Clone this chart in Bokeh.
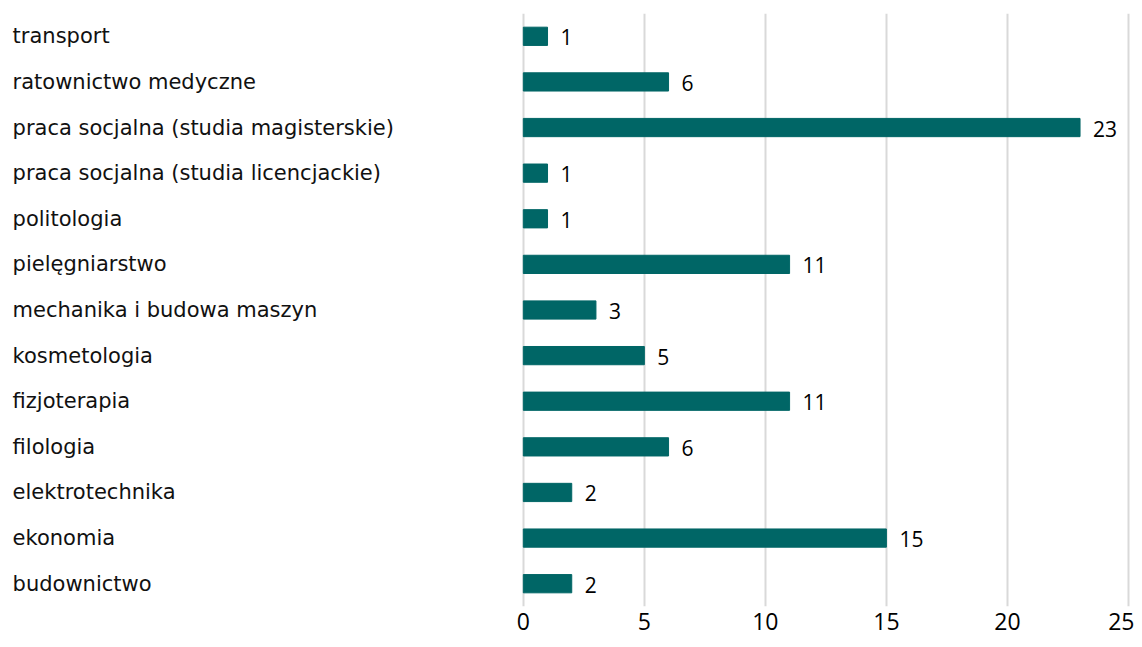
from bokeh.plotting import figure
from bokeh.models import ColumnDataSource, FixedTicker, Range1d
from bokeh.core.properties import value
from bokeh.embed import file_html
from bokeh.resources import INLINE

categories = ["transport", "ratownictwo medyczne", "praca socjalna (studia magisterskie)",
              "praca socjalna (studia licencjackie)", "politologia", "pielęgniarstwo",
              "mechanika i budowa maszyn", "kosmetologia", "fizjoterapia", "filologia",
              "elektrotechnika", "ekonomia", "budownictwo"]
counts = [1, 6, 23, 1, 1, 11, 3, 5, 11, 6, 2, 15, 2]
x_ticks = [0, 5, 10, 15, 20, 25]

label_x = -21.1

src = ColumnDataSource(dict(cat=categories, val=counts,
                            lab=[str(v) for v in counts],
                            lx=[label_x] * len(categories)))

p = figure(width=1134, height=639, y_range=list(reversed(categories)),
           x_range=Range1d(-21.6, 25.25), output_backend="svg", toolbar_location=None,
           min_border_left=0, min_border_right=0, min_border_top=13, min_border_bottom=33)

p.hbar(y="cat", right="val", left=0, height=0.4, source=src, color="#006666")

p.text(x="val", y="cat", text="lab", source=src, x_offset=13, y_offset=1, text_baseline="middle",
       text_align="left", text_font=value("Open Sans"), text_font_size="21px", text_color="#000000")

p.text(x="lx", y="cat", text="cat", source=src, text_baseline="middle", text_align="left",
       text_font=value("DejaVu Sans"), text_font_size="21px", text_color="#111111")

p.yaxis.visible = False
p.ygrid.grid_line_color = None
p.xaxis.ticker = FixedTicker(ticks=x_ticks)
p.xgrid.ticker = FixedTicker(ticks=x_ticks)
p.xgrid.grid_line_color = "#d9d9d9"
p.xgrid.grid_line_width = 2
p.xaxis.axis_line_color = None
p.xaxis.major_tick_line_color = None
p.xaxis.minor_tick_line_color = None
p.xaxis.major_tick_out = 0
p.xaxis.major_tick_in = 0
p.xaxis.major_label_text_font = "Open Sans"
p.xaxis.major_label_text_font_size = "23px"
p.xaxis.major_label_text_color = "#000000"
p.xaxis.major_label_standoff = 6
p.outline_line_color = None
p.background_fill_color = "white"
p.border_fill_color = "white"

open("out.html", "w").write(file_html(p, INLINE))
